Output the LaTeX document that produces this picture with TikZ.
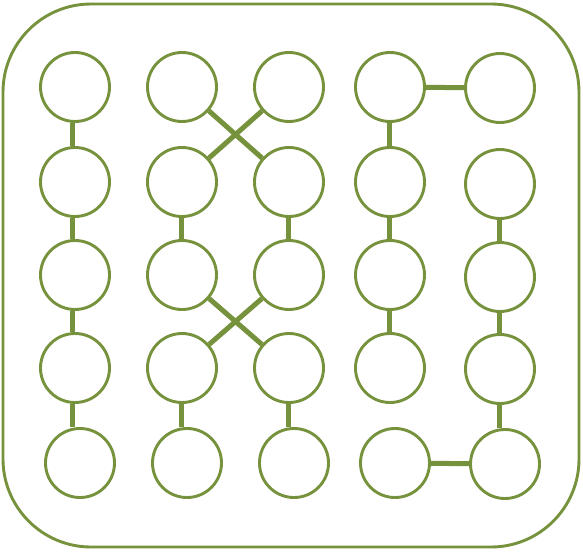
\documentclass[tikz,border=0pt]{standalone}
\definecolor{olive}{HTML}{76923C}
\begin{document}
\begin{tikzpicture}[x=1pt,y=-1pt,
  ring/.style={circle,draw=olive,line width=2.9pt,minimum size=69pt,inner sep=0pt},
  link/.style={draw=olive,line width=5pt},
  frame/.style={draw=olive,line width=2.9pt,rounded corners=88pt}]
\useasboundingbox (0,0) rectangle (583,551);
\draw[frame] (3,4) rectangle (579,547);
% row 1
\node[ring] (n11) at (75,87) {};
\node[ring] (n21) at (182,87) {};
\node[ring] (n31) at (289,87) {};
\node[ring] (n41) at (390,87) {};
\node[ring] (n51) at (500,88) {};
% row 2
\node[ring] (n12) at (75,182) {};
\node[ring] (n22) at (182,182) {};
\node[ring] (n32) at (289,182) {};
\node[ring] (n42) at (390,182) {};
\node[ring] (n52) at (500,184) {};
% row 3
\node[ring] (n13) at (75,275) {};
\node[ring] (n23) at (182,275) {};
\node[ring] (n33) at (289,275) {};
\node[ring] (n43) at (390,275) {};
\node[ring] (n53) at (500,277) {};
% row 4
\node[ring] (n14) at (75,368) {};
\node[ring] (n24) at (182,368) {};
\node[ring] (n34) at (289,368) {};
\node[ring] (n44) at (390,368) {};
\node[ring] (n54) at (500,369) {};
% row 5
\node[ring] (n15) at (80,463) {};
\node[ring] (n25) at (187,463) {};
\node[ring] (n35) at (294,463) {};
\node[ring] (n45) at (395,463) {};
\node[ring] (n55) at (505,464) {};
% vertical links (first column sits a little left of centre)
\foreach \a/\b in {n11/n12,n12/n13,n13/n14,n14/n15}
  \draw[link] ([xshift=-3pt]\a.south) -- ([xshift=-3pt]\a.south |- \b.north);
\foreach \a/\b in {n22/n23,n24/n25,
                   n32/n33,n34/n35,
                   n41/n42,n42/n43,n43/n44,
                   n52/n53,n53/n54,n54/n55}
  \draw[link] ([xshift=-1pt]\a.south) -- ([xshift=-1pt]\a.south |- \b.north);
% crossings
\draw[link] (n21) -- (n32);
\draw[link] (n31) -- (n22);
\draw[link] (n23) -- (n34);
\draw[link] (n33) -- (n24);
% horizontal links
\draw[link] (n41) -- (n51);
\draw[link] (n45) -- (n55);
\end{tikzpicture}
\end{document}
